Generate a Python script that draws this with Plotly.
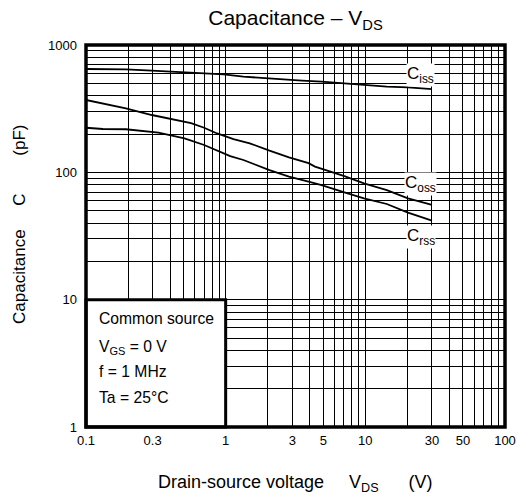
import math
import plotly.graph_objects as go

# ---- data ----
vds_ciss = [0.1, 0.193, 0.296, 0.388, 0.629, 0.968, 1.34, 2.06, 3.52, 4.86, 7.08, 9.78, 14.25, 20.2, 30]
ciss = [648, 644, 629, 621, 606, 588, 564, 544, 525, 515, 500, 491, 471, 465, 451]

vds_coss = [0.1, 0.147, 0.193, 0.296, 0.388, 0.565, 0.701, 0.869, 1.137, 1.488, 2.06, 2.84, 3.92, 4.36, 7.08, 9.78, 14.25, 20.2, 30]
coss = [370, 338, 318, 282, 265, 243, 224, 202, 182, 169, 148, 131, 118, 111, 93.5, 81.9, 72.6, 62.4, 55.4]

vds_crss = [0.1, 0.132, 0.193, 0.330, 0.507, 0.701, 1.078, 1.34, 2.06, 2.84, 3.92, 4.86, 7.08, 9.78, 14.25, 20.2, 30]
crss = [224, 219, 218, 205, 185, 164, 134, 125, 104, 92.4, 84.4, 79.5, 69.6, 62.4, 56.4, 48.2, 41.7]

x_tick_vals = [0.1, 0.3, 1, 3, 5, 10, 30, 50, 100]
x_tick_text = ["0.1", "0.3", "1", "3", "5", "10", "30", "50", "100"]
y_tick_vals = [1, 10, 100, 1000]
y_tick_text = ["1", "10", "100", "1000"]
x_grid_vals = [0.1, 0.2, 0.3, 0.4, 0.5, 0.6, 0.7, 0.8, 0.9,
               1, 2, 3, 4, 5, 6, 7, 8, 9,
               10, 20, 30, 40, 50, 60, 70, 80, 90, 100]
y_grid_vals = [1, 2, 3, 4, 5, 6, 7, 8, 9,
               10, 20, 30, 40, 50, 60, 70, 80, 90,
               100, 200, 300, 400, 500, 600, 700, 800, 900, 1000]
x_range = [0.1, 100]
y_range = [1, 1000]

series_names = ["iss", "oss", "rss"]
label_pos = [(25, 585), (25, 81), (25, 31)]
inset_lines = ["Common source", "V<sub>GS</sub> = 0 V", "f = 1 MHz", "Ta = 25°C"]
inset_box = (0.1, 1, 1, 10)  # x0, x1, y0, y1 (data units)

FONT = "Liberation Sans, Arial, sans-serif"

fig = go.Figure()
for xs, ys, nm in [(vds_ciss, ciss, "Ciss"), (vds_coss, coss, "Coss"), (vds_crss, crss, "Crss")]:
    fig.add_trace(go.Scatter(x=xs, y=ys, mode="lines", name=nm,
                             line=dict(color="black", width=1.8), showlegend=False))

lx0, lx1 = math.log10(x_range[0]), math.log10(x_range[1])
ly0, ly1 = math.log10(y_range[0]), math.log10(y_range[1])

axis_common = dict(
    type="log", showline=False, zeroline=False, ticks="",
    gridcolor="black", gridwidth=1,
    tickfont=dict(family=FONT, size=13, color="black"),
)
fig.update_xaxes(range=[lx0, lx1], tickmode="array", tickvals=x_tick_vals, ticktext=x_tick_text,
                 ticklabelstandoff=4,
                 minor=dict(tickmode="array", tickvals=x_grid_vals, showgrid=True,
                            gridcolor="black", gridwidth=1, ticks=""),
                 **axis_common)
fig.update_yaxes(range=[ly0, ly1], tickmode="array", tickvals=y_tick_vals, ticktext=y_tick_text,
                 ticklabelstandoff=8,
                 minor=dict(tickmode="array", tickvals=y_grid_vals, showgrid=True,
                            gridcolor="black", gridwidth=1, ticks=""),
                 **axis_common)

def px(v):
    return (math.log10(v) - lx0) / (lx1 - lx0)

def py(v):
    return (math.log10(v) - ly0) / (ly1 - ly0)

shapes = [
    # white inset box hiding the grid
    dict(type="rect", xref="paper", yref="paper",
         x0=px(inset_box[0]), x1=px(inset_box[1]), y0=py(inset_box[2]), y1=py(inset_box[3]),
         fillcolor="white", line=dict(color="black", width=3), layer="above"),
    # plot frame
    dict(type="rect", xref="paper", yref="paper", x0=0, x1=1, y0=0, y1=1,
         line=dict(color="black", width=3.5), layer="above"),
]

annotations = []
for nm, (lx, ly) in zip(series_names, label_pos):
    annotations.append(dict(x=math.log10(lx), y=math.log10(ly), xref="x", yref="y",
                            text=f"C<sub>{nm}</sub>", showarrow=False,
                            font=dict(family=FONT, size=17, color="black"),
                            bgcolor="white", borderpad=0))
inset_y = [0.2853, 0.2094, 0.144, 0.0785]
for t, yy in zip(inset_lines, inset_y):
    annotations.append(dict(x=0.0257, y=yy, xref="paper", yref="paper", xanchor="left",
                            yanchor="middle", text=t, showarrow=False,
                            font=dict(family=FONT, size=15.7, color="black")))
# axis titles
annotations.append(dict(x=0.5, y=-0.149, xref="paper", yref="paper", xanchor="center",
                        yanchor="middle", showarrow=False,
                        text="Drain-source voltage     V<sub>DS</sub>      (V)",
                        font=dict(family=FONT, size=18, color="black")))
annotations.append(dict(x=-0.159, y=0.53, xref="paper", yref="paper", xanchor="center",
                        yanchor="middle", showarrow=False, textangle=-90,
                        text="Capacitance     C        (pF)",
                        font=dict(family=FONT, size=17, color="black")))

fig.update_layout(
    width=528, height=499,
    margin=dict(l=86, r=14, t=45, b=72),
    paper_bgcolor="white", plot_bgcolor="white",
    title=dict(text="Capacitance – V<sub>DS</sub>", x=0.5, xref="paper",
               y=1 - 18 / 499, yref="container", yanchor="middle",
               font=dict(family=FONT, size=21, color="black")),
    shapes=shapes, annotations=annotations,
)

fig.write_html("out.html", config={"displayModeBar": False},
               post_script="document.body.style.margin='0';")
